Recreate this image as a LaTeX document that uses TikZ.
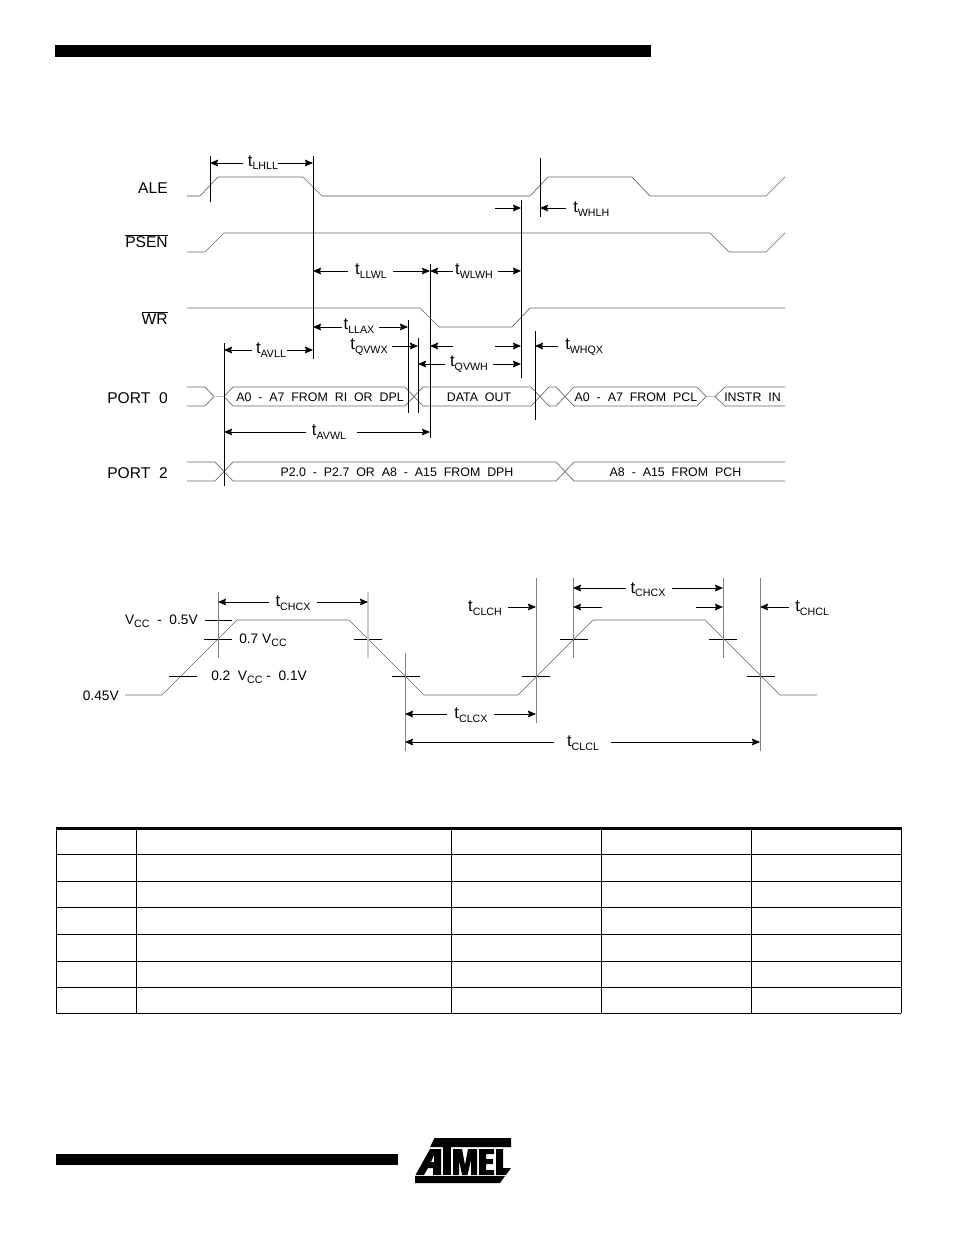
\documentclass[tikz,border=0pt]{standalone}
\usepackage{fontspec}
\setmainfont{Liberation Sans}
\usetikzlibrary{shapes.geometric, arrows.meta}
\newcommand{\subs}[2]{#1\raisebox{-2.5pt}{\fontsize{8}{8}\selectfont #2}}
\tikzstyle{signal}   = [font=\fontsize{11.7}{13}\selectfont, anchor=east, inner sep=0pt]
\tikzstyle{timing}   = [font=\fontsize{12.5}{13}\selectfont, inner sep=0pt]
\tikzstyle{level}    = [font=\fontsize{10.3}{12}\selectfont, anchor=west, inner sep=0pt]
\tikzstyle{busname}  = [font=\fontsize{9.3}{10}\selectfont, inner sep=0pt]
\tikzstyle{wave}     = [draw=black!60, line width=0.5pt]
\tikzstyle{faint}    = [draw=black!25, line width=1pt]
\tikzstyle{guide}    = [draw=black, line width=0.7pt]
\tikzstyle{softline} = [draw=black!50, line width=0.7pt]
\tikzstyle{softwide} = [draw=black!20, line width=1.2pt]
\tikzstyle{arrow}    = [draw=black, line width=0.6pt, -{Stealth[length=6pt, width=5pt, inset=0.8pt]}]
\tikzstyle{tick}     = [draw=black, line width=0.6pt]
\tikzstyle{rule}     = [draw=black, line width=0.7pt]
\begin{document}
\begin{tikzpicture}[x=0.75pt, y=-0.75pt]
    \useasboundingbox (0,0) rectangle (954,1235);

    % page bars
    \fill (55,45) rectangle (651,57);
    \fill (56,1154) rectangle (398,1165);

    % signal names
    \node (ale)   [signal] at (168,188.5) {ALE};
    \node (psen)  [signal] at (168,241) {$\overline{\hbox{PSEN}}$};
    \node (wr)    [signal] at (168,318) {$\overline{\hbox{WR}}$};
    \node (porta) [signal] at (168,398.5) {PORT\ \ 0};
    \node (portb) [signal] at (168,473.5) {PORT\ \ 2};

    % waveforms
    \draw [faint] (187,196) -- (200,196);
    \draw [wave]  (200,196) -- (218,177) -- (303,177) -- (322,196);
    \draw [faint] (322,196) -- (530,196);
    \draw [wave]  (530,196) -- (548,177) -- (632,177) -- (650,196) -- (766,196) -- (785,177);
    \draw [wave]  (187,252) -- (205,252) -- (224,233) -- (710,233) -- (729,252) -- (766,252) -- (785,233);
    \draw [wave]  (187,308) -- (420,308) -- (439,327) -- (512,327) -- (530,308) -- (785,308);

    % port 0
    \draw [wave]  (187,387) -- (205,387) -- (214,396.5);
    \draw [wave]  (187,406) -- (205,406) -- (214,396.5);
    \draw [faint] (214,396.5) -- (224,396.5);
    \draw [wave]  (224,396.5) -- (233,387) -- (405,387) -- (423,406) -- (531,406) -- (549,387) -- (556,387) -- (574,406) -- (697,406) -- (706,396.5);
    \draw [wave]  (224,396.5) -- (233,406) -- (405,406) -- (423,387) -- (531,387) -- (549,406) -- (556,406) -- (574,387) -- (697,387) -- (706,396.5);
    \draw [faint] (706,396.5) -- (715,396.5);
    \draw [wave]  (785,387) -- (725,387) -- (715,396.5) -- (725,406) -- (785,406);

    % port 2
    \draw [wave]  (187,462) -- (215,462) -- (233,481) -- (556,481) -- (574,462) -- (785,462);
    \draw [wave]  (187,481) -- (215,481) -- (233,462) -- (556,462) -- (574,481) -- (785,481);

    % bus contents
    \node (lowa)  [busname] at (320,397.5) {A0\ \ -\ \ A7\ \ FROM\ \ RI\ \ OR\ \ DPL};
    \node (data)  [busname] at (479,397.5) {DATA\ \ OUT};
    \node (lowb)  [busname] at (636,397.5) {A0\ \ -\ \ A7\ \ FROM\ \ PCL};
    \node (instr) [busname] at (752.5,397.5) {INSTR\ \ IN};
    \node (higha) [busname] at (397,472.5) {P2.0\ \ -\ \ P2.7\ \ OR\ \ A8\ \ -\ \ A15\ \ FROM\ \ DPH};
    \node (highb) [busname] at (675.5,472.5) {A8\ \ -\ \ A15\ \ FROM\ \ PCH};

    % guide lines
    \draw [guide] (210,156) -- (210,202);
    \draw [guide] (313,156) -- (313,359);
    \draw [guide] (540,158) -- (540,217);
    \draw [guide] (521,200) -- (521,378);
    \draw [guide] (430,264) -- (430,438);
    \draw [guide] (408,320) -- (408,413);
    \draw [guide] (418,338) -- (418,413);
    \draw [guide] (535,331) -- (535,420);
    \draw [guide] (224,343) -- (224,486);

    % timing labels
    \node (lhll) [timing] at (263,162.5) {\subs{t}{LHLL}};
    \node (llwl) [timing] at (371,271) {\subs{t}{LLWL}};
    \node (wlwh) [timing] at (474,271) {\subs{t}{WLWH}};
    \node (llax) [timing] at (359,326) {\subs{t}{LLAX}};
    \node (qvwx) [timing] at (369,347) {\subs{t}{QVWX}};
    \node (qvwh) [timing] at (469,364) {\subs{t}{QVWH}};
    \node (avll) [timing] at (271,350) {\subs{t}{AVLL}};
    \node (avwl) [timing] at (329,432) {\subs{t}{AVWL}};
    \node (whlh) [timing, anchor=west] at (573,209) {\subs{t}{WHLH}};
    \node (whqx) [timing, anchor=west] at (565,347) {\subs{t}{WHQX}};

    % timing arrows
    \draw [arrow] (243,163) -- (210,163);
    \draw [arrow] (278,163) -- (313,163);
    \draw [arrow] (348,271) -- (313,271);
    \draw [arrow] (393,271) -- (430,271);
    \draw [arrow] (453,271) -- (430,271);
    \draw [arrow] (498,271) -- (521,271);
    \draw [arrow] (342,327) -- (313,327);
    \draw [arrow] (379,327) -- (408,327);
    \draw [arrow] (392,346) -- (418,346);
    \draw [arrow] (453,346) -- (430,346);
    \draw [arrow] (495,346) -- (521,346);
    \draw [arrow] (445,364) -- (418,364);
    \draw [arrow] (493,364) -- (521,364);
    \draw [arrow] (558,346) -- (535,346);
    \draw [arrow] (566,208) -- (540,208);
    \draw [arrow] (495,208) -- (521,208);
    \draw [arrow] (252,350) -- (224,350);
    \draw [arrow] (287,350) -- (313,350);
    \draw [arrow] (306,432) -- (224,432);
    \draw [arrow] (357,432) -- (430,432);

    % clock waveform
    \draw [wave] (125,695) -- (162,695) -- (237,620) -- (349,620) -- (424,695) -- (518,695) -- (593,620) -- (705,620) -- (780,695) -- (817,695);

    % level labels
    \node (lowlevel)  [level, anchor=east] at (119,695.5) {0.45V};
    \node (toplevel)  [level, anchor=east] at (198,621) {\subs{V}{CC}\ \ -\ \ 0.5V};
    \node (highlevel) [level] at (239,640) {0.7 \subs{V}{CC}};
    \node (midlevel)  [level] at (211,677) {0.2\ \ \subs{V}{CC}\ -\ \ 0.1V};

    % level ticks
    \draw [tick] (205,620) -- (232,620);
    \draw [tick] (204,639) -- (232,639);
    \draw [tick] (354,639) -- (382,639);
    \draw [tick] (560,639) -- (588,639);
    \draw [tick] (709,639) -- (737,639);
    \draw [tick] (169,676) -- (197,676);
    \draw [tick] (392,676) -- (420,676);
    \draw [tick] (522,676) -- (550,676);
    \draw [tick] (747,676) -- (775,676);

    % clock guide lines
    \draw [softline] (218,592) -- (218,658);
    \draw [softwide] (368,592) -- (368,658);
    \draw [softline] (405,653) -- (405,751);
    \draw [softline] (536,578) -- (536,723);
    \draw [softline] (573,578) -- (573,658);
    \draw [softline] (723,578) -- (723,658);
    \draw [softline] (760,578) -- (760,751);

    % clock timing labels
    \node (chcxa) [timing] at (293,603) {\subs{t}{CHCX}};
    \node (clcx)  [timing] at (471,715) {\subs{t}{CLCX}};
    \node (clcl)  [timing] at (583,743) {\subs{t}{CLCL}};
    \node (clch)  [timing] at (485,608) {\subs{t}{CLCH}};
    \node (chcxb) [timing] at (648,589.5) {\subs{t}{CHCX}};
    \node (chcl)  [timing, anchor=west] at (795,608) {\subs{t}{CHCL}};

    % clock timing arrows
    \draw [arrow] (269,602) -- (218,602);
    \draw [arrow] (317,602) -- (368,602);
    \draw [arrow] (447,714) -- (405,714);
    \draw [arrow] (494,714) -- (536,714);
    \draw [arrow] (554,742) -- (405,742);
    \draw [arrow] (611,742) -- (760,742);
    \draw [arrow] (508,607) -- (536,607);
    \draw [arrow] (626,588) -- (573,588);
    \draw [arrow] (672,588) -- (723,588);
    \draw [arrow] (602,607) -- (573,607);
    \draw [arrow] (696,607) -- (723,607);
    \draw [arrow] (789,607) -- (760,607);

    % table
    \foreach \y in {854,881,907,934,961,987,1013} {
        \draw [rule] (56,\y) -- (901,\y);
    }
    \foreach \x in {56,136,451,601,751,901} {
        \draw [rule] (\x,828) -- (\x,1013);
    }
    \fill (55.5,827) rectangle (901.5,830);

    % logo
    \fill (434.5,1138) -- (511,1138) -- (511,1147) -- (430,1147) -- cycle;
    \fill [even odd rule] (415.5,1175) -- (430,1149) -- (441,1149) -- (441,1175) -- (433,1175) -- (433,1168) -- (428,1168) -- (424,1175) -- cycle
        (431,1162) -- (434,1162) -- (434,1155) -- cycle;
    \fill (443,1147) -- (451,1147) -- (451,1175) -- (443,1175) -- cycle;
    \fill (453,1149) -- (462,1149) -- (465,1165) -- (468,1149) -- (477,1149) -- (477,1175) -- (471,1175) -- (471,1160) -- (467.5,1175) -- (462,1175) -- (459,1160) -- (459,1175) -- (453,1175) -- cycle;
    \fill (479,1149) -- (494,1149) -- (494,1154) -- (486,1154) -- (486,1159) -- (493,1159) -- (493,1164) -- (486,1164) -- (486,1170) -- (494,1170) -- (494,1175) -- (479,1175) -- cycle;
    \fill (496,1149) -- (503,1149) -- (503,1168) -- (511,1168) -- (506,1175) -- (496,1175) -- cycle;
    \fill (415,1176) -- (505,1176) -- (500,1183) -- (415,1183) -- cycle;
\end{tikzpicture}
\end{document}
